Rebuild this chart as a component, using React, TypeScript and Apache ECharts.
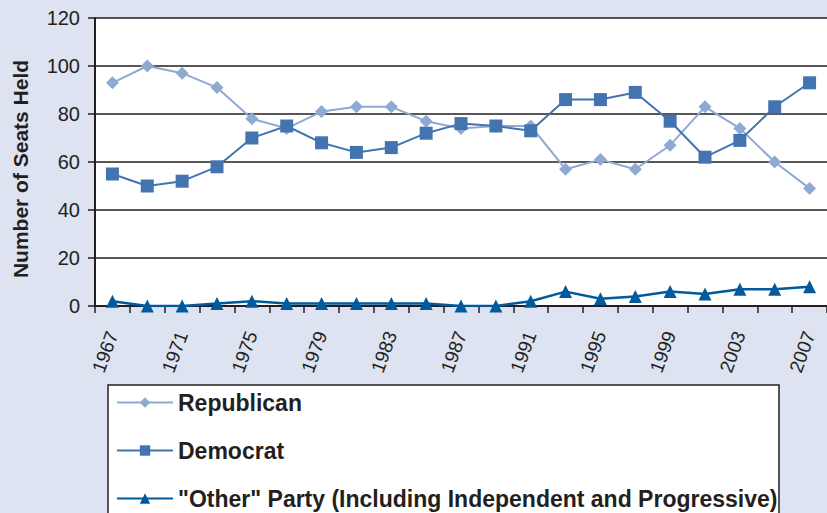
import React, { useEffect, useRef } from "react";
import * as echarts from "echarts";

const years = ["1967","1969","1971","1973","1975","1977","1979","1981","1983","1985","1987","1989","1991","1993","1995","1997","1999","2001","2003","2005","2007"];
const republican = [93, 100, 97, 91, 78, 74, 81, 83, 83, 77, 74, 75, 75, 57, 61, 57, 67, 83, 74, 60, 49];
const democrat = [55, 50, 52, 58, 70, 75, 68, 64, 66, 72, 76, 75, 73, 86, 86, 89, 77, 62, 69, 83, 93];
const other = [2, 0, 0, 1, 2, 1, 1, 1, 1, 1, 0, 0, 2, 6, 3, 4, 6, 5, 7, 7, 8];
const seriesNames = ["Republican", "Democrat", "\"Other\" Party (Including Independent and Progressive)"];
const yTicks = { min: 0, max: 120, interval: 20 };

export default function App() {
  const ref = useRef<HTMLDivElement>(null);
  useEffect(() => {
    if (!ref.current) return;
    const chart = echarts.init(ref.current, undefined, { renderer: "svg" });
    const font = "Liberation Sans, Arial, sans-serif";
    chart.setOption({
      animation: false,
      backgroundColor: "#dde3f0",
      textStyle: { fontFamily: font },
      grid: {
        left: 95,
        top: 18,
        width: 734,
        height: 288,
        show: true,
        backgroundColor: "#ffffff",
        borderWidth: 0,
      },
      legend: {
        orient: "vertical",
        left: 116,
        top: 391,
        height: 200,
        padding: 0,
        itemWidth: 56,
        itemHeight: 13,
        itemGap: 25,
        textStyle: { fontFamily: font, fontSize: 23, lineHeight: 22, fontWeight: "bold", color: "#231f20" },
        data: seriesNames,
      },
      graphic: [
        {
          type: "rect",
          shape: { x: 108, y: 385, width: 671, height: 140 },
          style: { fill: "#ffffff", stroke: "#231f20", lineWidth: 1.5 },
          z: -1,
        },
      ],
      xAxis: {
        type: "category",
        data: years,
        boundaryGap: true,
        axisLine: { lineStyle: { color: "#231f20", width: 2 } },
        axisTick: { show: true, interval: 0, length: 7, lineStyle: { color: "#231f20", width: 1.5 } },
        axisLabel: {
          interval: 1,
          rotate: 70,
          margin: 26,
          fontSize: 19,
          color: "#231f20",
          fontFamily: font,
        },
        splitLine: { show: false },
      },
      yAxis: {
        type: "value",
        min: yTicks.min,
        max: yTicks.max,
        interval: yTicks.interval,
        name: "Number of Seats Held",
        nameLocation: "middle",
        nameGap: 64,
        nameTextStyle: { fontSize: 21, fontWeight: "bold", color: "#231f20", fontFamily: font, padding: [0, 14, 0, 0] },
        axisLine: { show: true, lineStyle: { color: "#231f20", width: 2 } },
        axisTick: { show: true, length: 7, lineStyle: { color: "#231f20", width: 1.5 } },
        axisLabel: { fontSize: 20, color: "#231f20", margin: 15, fontFamily: font },
        splitLine: { show: true, lineStyle: { color: "#231f20", width: 1.5 } },
      },
      series: [
        {
          name: seriesNames[0],
          type: "line",
          data: republican,
          symbol: "diamond",
          symbolSize: 13,
          itemStyle: { color: "#8eaad3" },
          lineStyle: { color: "#8eaad3", width: 2 },
        },
        {
          name: seriesNames[1],
          type: "line",
          data: democrat,
          symbol: "rect",
          symbolSize: 13,
          itemStyle: { color: "#4374b0" },
          lineStyle: { color: "#4374b0", width: 2 },
        },
        {
          name: seriesNames[2],
          type: "line",
          data: other,
          symbol: "triangle",
          symbolSize: 13,
          itemStyle: { color: "#005a9c" },
          lineStyle: { color: "#005a9c", width: 2.5 },
        },
      ],
    });
    return () => chart.dispose();
  }, []);
  return (
    <div
      ref={ref}
      style={{ position: "fixed", left: 0, top: 0, width: 827, height: 513 }}
    />
  );
}
